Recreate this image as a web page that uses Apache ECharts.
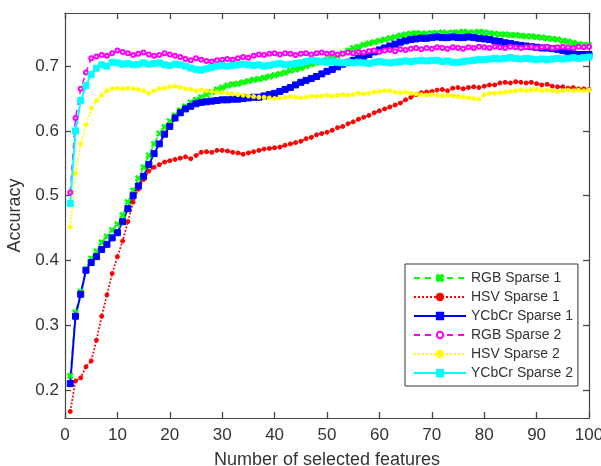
<!DOCTYPE html>
<html>
<head>
<meta charset="utf-8">
<script src="https://cdn.jsdelivr.net/npm/echarts@6/dist/echarts.min.js"></script>
<style>
  html, body { margin: 0; padding: 0; background: #fff; }
  #chart { width: 601px; height: 466px; }
</style>
</head>
<body>
<div id="chart"></div>
<script>
// number of selected features: 1..100
const features = Array.from({ length: 100 }, (_, i) => i + 1)

const seriesNames = ['RGB Sparse 1', 'HSV Sparse 1', 'YCbCr Sparse 1', 'RGB Sparse 2', 'HSV Sparse 2', 'YCbCr Sparse 2']
const yTicks = [0.2, 0.3, 0.4, 0.5, 0.6, 0.7]

const rgb1 = [
  0.222, 0.320, 0.352, 0.386, 0.403, 0.414, 0.428, 0.437, 0.447, 0.456,
  0.470, 0.490, 0.508, 0.527, 0.544, 0.562, 0.580, 0.596, 0.606, 0.615,
  0.624, 0.632, 0.638, 0.644, 0.648, 0.652, 0.656, 0.660, 0.664, 0.667,
  0.670, 0.672, 0.673, 0.675, 0.677, 0.679, 0.680, 0.682, 0.684, 0.686,
  0.688, 0.690, 0.693, 0.695, 0.697, 0.700, 0.703, 0.705, 0.707, 0.710,
  0.712, 0.716, 0.720, 0.724, 0.728, 0.730, 0.733, 0.735, 0.737, 0.739,
  0.741, 0.743, 0.745, 0.747, 0.749, 0.750, 0.751, 0.750, 0.750, 0.751,
  0.751, 0.752, 0.751, 0.752, 0.752, 0.753, 0.752, 0.752, 0.753, 0.752,
  0.751, 0.750, 0.749, 0.749, 0.748, 0.748, 0.747, 0.746, 0.746, 0.745,
  0.744, 0.743, 0.742, 0.741, 0.739, 0.738, 0.736, 0.734, 0.733, 0.732
]
const hsv1 = [
  0.167, 0.214, 0.219, 0.236, 0.245, 0.277, 0.314, 0.347, 0.380, 0.406,
  0.430, 0.460, 0.490, 0.510, 0.525, 0.538, 0.544, 0.548, 0.552, 0.554,
  0.556, 0.558, 0.560, 0.557, 0.562, 0.567, 0.568, 0.567, 0.570, 0.570,
  0.569, 0.567, 0.566, 0.564, 0.566, 0.568, 0.570, 0.572, 0.573, 0.574,
  0.575, 0.578, 0.580, 0.582, 0.584, 0.588, 0.590, 0.594, 0.596, 0.598,
  0.601, 0.605, 0.607, 0.611, 0.614, 0.618, 0.621, 0.624, 0.628, 0.631,
  0.634, 0.637, 0.640, 0.643, 0.648, 0.652, 0.656, 0.659, 0.660, 0.661,
  0.663, 0.664, 0.662, 0.666, 0.667, 0.665, 0.667, 0.668, 0.667, 0.669,
  0.671, 0.671, 0.674, 0.675, 0.674, 0.676, 0.675, 0.674, 0.675, 0.673,
  0.671, 0.672, 0.669, 0.668, 0.668, 0.666, 0.667, 0.665, 0.665, 0.664
]
const ycbcr1 = [
  0.210, 0.314, 0.348, 0.385, 0.397, 0.406, 0.417, 0.425, 0.435, 0.443,
  0.460, 0.480, 0.500, 0.515, 0.530, 0.548, 0.565, 0.580, 0.595, 0.607,
  0.620, 0.628, 0.634, 0.638, 0.642, 0.644, 0.645, 0.646, 0.647, 0.648,
  0.648, 0.649, 0.649, 0.650, 0.651, 0.652, 0.652, 0.654, 0.656, 0.658,
  0.661, 0.664, 0.667, 0.671, 0.675, 0.678, 0.681, 0.684, 0.688, 0.692,
  0.695, 0.699, 0.703, 0.706, 0.709, 0.712, 0.714, 0.718, 0.722, 0.725,
  0.728, 0.731, 0.734, 0.737, 0.739, 0.741, 0.742, 0.743, 0.743, 0.744,
  0.745, 0.744, 0.744, 0.745, 0.744, 0.744, 0.745, 0.744, 0.743, 0.742,
  0.741, 0.739, 0.738, 0.736, 0.735, 0.733, 0.732, 0.731, 0.730, 0.729,
  0.728, 0.728, 0.727, 0.726, 0.724, 0.721, 0.719, 0.718, 0.718, 0.718
]
const rgb2 = [
  0.505, 0.620, 0.665, 0.690, 0.712, 0.715, 0.717, 0.716, 0.720, 0.724,
  0.722, 0.720, 0.717, 0.719, 0.721, 0.718, 0.716, 0.717, 0.720, 0.718,
  0.716, 0.714, 0.711, 0.709, 0.712, 0.710, 0.708, 0.707, 0.709, 0.710,
  0.711, 0.710, 0.712, 0.714, 0.713, 0.716, 0.718, 0.717, 0.719, 0.720,
  0.718, 0.720, 0.719, 0.717, 0.719, 0.720, 0.718, 0.720, 0.721, 0.719,
  0.720, 0.718, 0.719, 0.721, 0.720, 0.722, 0.721, 0.723, 0.724, 0.722,
  0.724, 0.725, 0.723, 0.726, 0.725, 0.727, 0.728, 0.726, 0.728, 0.727,
  0.729, 0.728, 0.727, 0.729, 0.728, 0.727, 0.729, 0.728, 0.730, 0.729,
  0.728, 0.730, 0.729, 0.728, 0.730, 0.729, 0.728, 0.729, 0.730, 0.728,
  0.729, 0.730, 0.728, 0.729, 0.730, 0.729, 0.728, 0.730, 0.729, 0.730
]
const hsv2 = [
  0.452, 0.535, 0.580, 0.610, 0.635, 0.647, 0.655, 0.662, 0.665, 0.666,
  0.665, 0.666, 0.665, 0.664, 0.662, 0.658, 0.662, 0.665, 0.666, 0.668,
  0.669, 0.667, 0.665, 0.664, 0.662, 0.663, 0.662, 0.661, 0.660, 0.659,
  0.658, 0.657, 0.656, 0.655, 0.654, 0.653, 0.652, 0.652, 0.651, 0.650,
  0.651, 0.652, 0.653, 0.652, 0.651, 0.652, 0.654, 0.653, 0.654, 0.655,
  0.654, 0.655, 0.656, 0.655, 0.656, 0.658, 0.657, 0.658, 0.660, 0.661,
  0.662, 0.662, 0.660, 0.659, 0.660, 0.658, 0.657, 0.656, 0.655, 0.656,
  0.655, 0.654, 0.655, 0.654, 0.653, 0.652, 0.651, 0.650, 0.649, 0.656,
  0.658, 0.658, 0.659, 0.660, 0.661, 0.662, 0.663, 0.662, 0.663, 0.664,
  0.662, 0.663, 0.662, 0.661, 0.662, 0.663, 0.662, 0.663, 0.662, 0.663
]
const ycbcr2 = [
  0.488, 0.600, 0.647, 0.670, 0.687, 0.697, 0.702, 0.700, 0.706, 0.705,
  0.703, 0.704, 0.702, 0.703, 0.705, 0.703, 0.704, 0.705, 0.702, 0.701,
  0.703, 0.702, 0.700, 0.697, 0.695, 0.694, 0.696, 0.698, 0.700, 0.701,
  0.700, 0.701, 0.702, 0.703, 0.702, 0.701, 0.702, 0.700, 0.701, 0.703,
  0.704, 0.702, 0.703, 0.704, 0.705, 0.707, 0.709, 0.708, 0.707, 0.706,
  0.707, 0.706, 0.705, 0.706, 0.705, 0.706, 0.705, 0.704, 0.706, 0.707,
  0.706, 0.705, 0.706, 0.707, 0.708, 0.707, 0.708, 0.709, 0.708, 0.709,
  0.709, 0.707, 0.708, 0.706, 0.706, 0.707, 0.708, 0.709, 0.710, 0.710,
  0.711, 0.712, 0.711, 0.712, 0.713, 0.712, 0.711, 0.712, 0.711, 0.710,
  0.711, 0.710, 0.711, 0.712, 0.711, 0.712, 0.713, 0.712, 0.713, 0.714
]

const crossPath = 'path://M0,2L2,0L5,3L8,0L10,2L7,5L10,8L8,10L5,7L2,10L0,8L3,5Z'
const textColor = '#333'
const axisColor = '#444'
const font = 'Liberation Sans, Arial, Helvetica, sans-serif'

const pairs = (ys) => features.map((x, i) => [x, ys[i]])

const makeSeries = (name, ys, color, lineType, width, symbol, size) => ({
  name,
  type: 'line',
  data: pairs(ys),
  symbol,
  symbolSize: size,
  showAllSymbol: true,
  lineStyle: { color, width, type: lineType },
  itemStyle: { color, borderColor: color, borderWidth: 1 }
})

// box-style axes: MATLAB-like ticks pointing into the plot on all four sides
const xAxisBase = (position) => ({
  type: 'value',
  position,
  min: 0,
  max: 100,
  interval: 10,
  splitLine: { show: false },
  axisLine: { show: true, onZero: false, lineStyle: { color: axisColor, width: 1.2 } },
  axisTick: { show: true, inside: true, length: 6, lineStyle: { color: axisColor, width: 1.3 } }
})
const yAxisBase = (position) => ({
  type: 'value',
  position,
  min: 0.157,
  max: 0.782,
  splitLine: { show: false },
  axisLine: { show: true, onZero: false, lineStyle: { color: axisColor, width: 1.2 } },
  axisTick: { show: true, inside: true, length: 6, customValues: yTicks, lineStyle: { color: axisColor, width: 1.3 } }
})

const option = {
  backgroundColor: '#fff',
  animation: false,
  grid: { left: 65, right: 12, top: 13, bottom: 48, outerBoundsMode: 'none' },
  legend: {
    orient: 'vertical',
    left: 405,
    top: 264,
    padding: [7, 5, 6, 8],
    itemWidth: 52,
    itemHeight: 8,
    itemGap: 5,
    backgroundColor: '#fff',
    borderColor: '#333',
    borderWidth: 1,
    borderRadius: 0,
    textStyle: { color: textColor, fontSize: 14, fontFamily: font },
    data: seriesNames
  },
  xAxis: [
    {
      ...xAxisBase('bottom'),
      name: 'Number of selected features',
      nameLocation: 'middle',
      nameGap: 33,
      nameTextStyle: { color: textColor, fontSize: 18, fontFamily: font },
      axisLabel: { color: textColor, fontSize: 17, fontFamily: font, margin: 9 }
    },
    { ...xAxisBase('top'), axisLabel: { show: false } }
  ],
  yAxis: [
    {
      ...yAxisBase('left'),
      name: 'Accuracy',
      nameLocation: 'middle',
      nameGap: 33,
      nameTextStyle: { color: textColor, fontSize: 18, fontFamily: font },
      axisLabel: {
        color: textColor,
        fontSize: 17,
        fontFamily: font,
        margin: 6,
        customValues: yTicks,
        formatter: (v) => v.toFixed(1)
      }
    },
    { ...yAxisBase('right'), axisLabel: { show: false } }
  ],
  series: [
    makeSeries('RGB Sparse 1', rgb1, '#00ff00', [6, 5], 1.5, crossPath, 6),
    makeSeries('HSV Sparse 1', hsv1, '#ff0000', 'dotted', 1.8, 'circle', 4),
    makeSeries('YCbCr Sparse 1', ycbcr1, '#0000ff', 'solid', 2, 'rect', 6),
    makeSeries('RGB Sparse 2', rgb2, '#ff00ff', [6, 5], 1.5, 'emptyCircle', 4),
    makeSeries('HSV Sparse 2', hsv2, '#ffff00', 'dotted', 1.8, 'circle', 4),
    makeSeries('YCbCr Sparse 2', ycbcr2, '#00ffff', 'solid', 2, 'rect', 6)
  ]
}

const chart = echarts.init(document.getElementById('chart'))
chart.setOption(option)
</script>
</body>
</html>
